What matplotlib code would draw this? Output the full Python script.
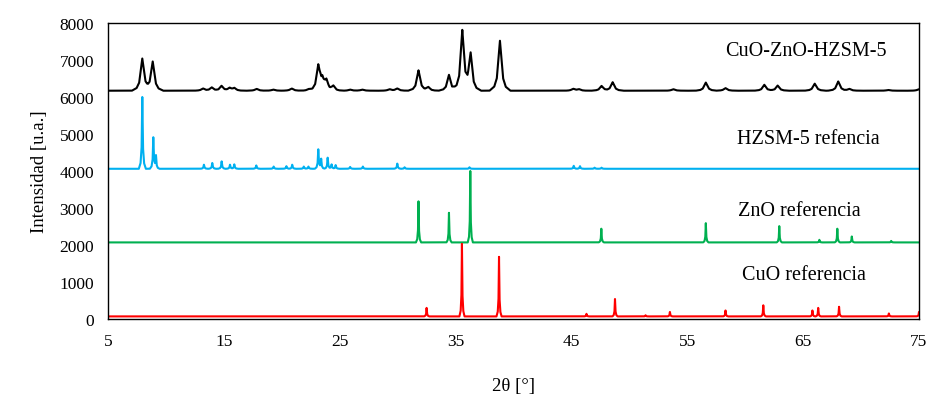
import numpy as np
import matplotlib
matplotlib.use("Agg")
import matplotlib.pyplot as plt

plt.rcParams['font.family'] = ['Liberation Serif', 'DejaVu Serif']

# ---- data (2theta position, peak top intensity) ----
cat_base = 6170
cat_pos = [7.96, 8.86, 13.2, 13.95, 14.8, 15.5, 15.9, 17.83, 19.27, 20.86, 22.3,
           23.15, 23.5, 23.85, 24.45, 25.9, 26.95, 29.3, 29.97, 31.8, 32.65,
           34.43, 35.58, 36.3, 38.83, 45.16, 45.65, 47.6, 48.56, 53.8, 56.6,
           58.3, 61.65, 62.8, 66.0, 68.03, 69.0, 72.35, 75.0]
cat_top = [7040, 6960, 6230, 6260, 6300, 6240, 6240, 6220, 6200, 6230, 6210,
           6830, 6420, 6420, 6300, 6200, 6200, 6210, 6230, 6720, 6270,
           6600, 7780, 7150, 7520, 6220, 6210, 6300, 6400, 6210, 6390,
           6240, 6330, 6310, 6360, 6420, 6220, 6190, 6210]

hz_base = 4060
hz_pos = [7.96, 8.91, 9.14, 13.28, 14.0, 14.81, 15.53, 15.9, 17.8, 19.3, 20.4,
          20.9, 21.9, 22.3, 23.15, 23.4, 23.96, 24.3, 24.65, 25.9, 27.0, 29.97,
          30.6, 36.2, 45.2, 45.74, 47.0, 47.6]
hz_top = [6000, 4900, 4400, 4170, 4216, 4260, 4170, 4180, 4150, 4120, 4130,
          4170, 4120, 4120, 4580, 4320, 4360, 4180, 4160, 4110, 4120, 4200,
          4100, 4100, 4140, 4130, 4090, 4090]

zno_base = 2070
zno_pos = [31.8, 34.43, 36.27, 47.58, 56.6, 62.94, 66.4, 67.95, 69.2, 72.6]
zno_top = [3180, 2870, 4000, 2440, 2590, 2510, 2140, 2440, 2230, 2110]

cuo_base = 70
cuo_pos = [32.5, 35.55, 38.75, 46.3, 48.76, 51.4, 53.5, 58.3, 61.56, 65.8,
           66.3, 68.1, 72.4, 75.0]
cuo_top = [300, 2030, 1680, 140, 540, 100, 190, 230, 370, 230, 300, 330, 150, 190]

# peak outlines (relative offsets and fractions of height) - shape only
off_broad = np.array([-1.0, -0.55, -0.3, -0.12, 0.0, 0.12, 0.3, 0.55, 1.0])
off_sharp = np.array([-1.0, -0.5, -0.2, -0.07, 0.0, 0.07, 0.2, 0.5, 1.0])
frac_b = np.array([0.0, 0.08, 0.25, 0.7, 1.0, 0.7, 0.25, 0.08, 0.0])
frac_s = np.array([0.0, 0.08, 0.3, 0.75, 1.0, 0.75, 0.3, 0.08, 0.0])

series = [
    (cat_base, cat_pos, cat_top, 0.9, off_broad, frac_b, "#000000"),
    (hz_base, hz_pos, hz_top, 0.3, off_sharp, frac_s, "#00B0F0"),
    (zno_base, zno_pos, zno_top, 0.22, off_sharp, frac_s, "#00B050"),
    (cuo_base, cuo_pos, cuo_top, 0.22, off_sharp, frac_s, "#FF0000"),
]

labels = ["CuO-ZnO-HZSM-5", "HZSM-5 refencia", "ZnO referencia", "CuO referencia"]
label_x = [58.25, 59.25, 59.4, 59.7]
label_y = [7270, 4870, 2930, 1215]

fig = plt.figure(figsize=(9.53, 4.06), dpi=100)
ax = fig.add_axes([108/953, 1-320/406, (919-108)/953, (320-24)/406])

grid = np.linspace(5, 75.5, 14101)
for base, pos, top, w, off, frac, col in series:
    y = np.full_like(grid, float(base))
    for p, t in zip(pos, top):
        y += np.interp(grid, p + off * w, frac * (t - base), left=0, right=0)
    ax.plot(grid, y, color=col, lw=1.5, solid_joinstyle='round')

for t, lx, ly in zip(labels, label_x, label_y):
    ax.text(lx, ly, t, fontsize=14.5, va='center', ha='left')

ax.set_xlim(5, 75)
ax.set_ylim(0, 8000)
ax.set_xticks([5, 15, 25, 35, 45, 55, 65, 75])
ax.set_yticks(range(0, 8001, 1000))
ax.tick_params(length=0, labelsize=12.5, pad=10)
for s in ax.spines.values():
    s.set_linewidth(1.0)
ax.set_xlabel("2θ [°]", fontsize=13.5, labelpad=20)
ax.set_ylabel("Intensidad [u.a.]", fontsize=13.5, labelpad=8)

fig.savefig("out.png", dpi=100)
